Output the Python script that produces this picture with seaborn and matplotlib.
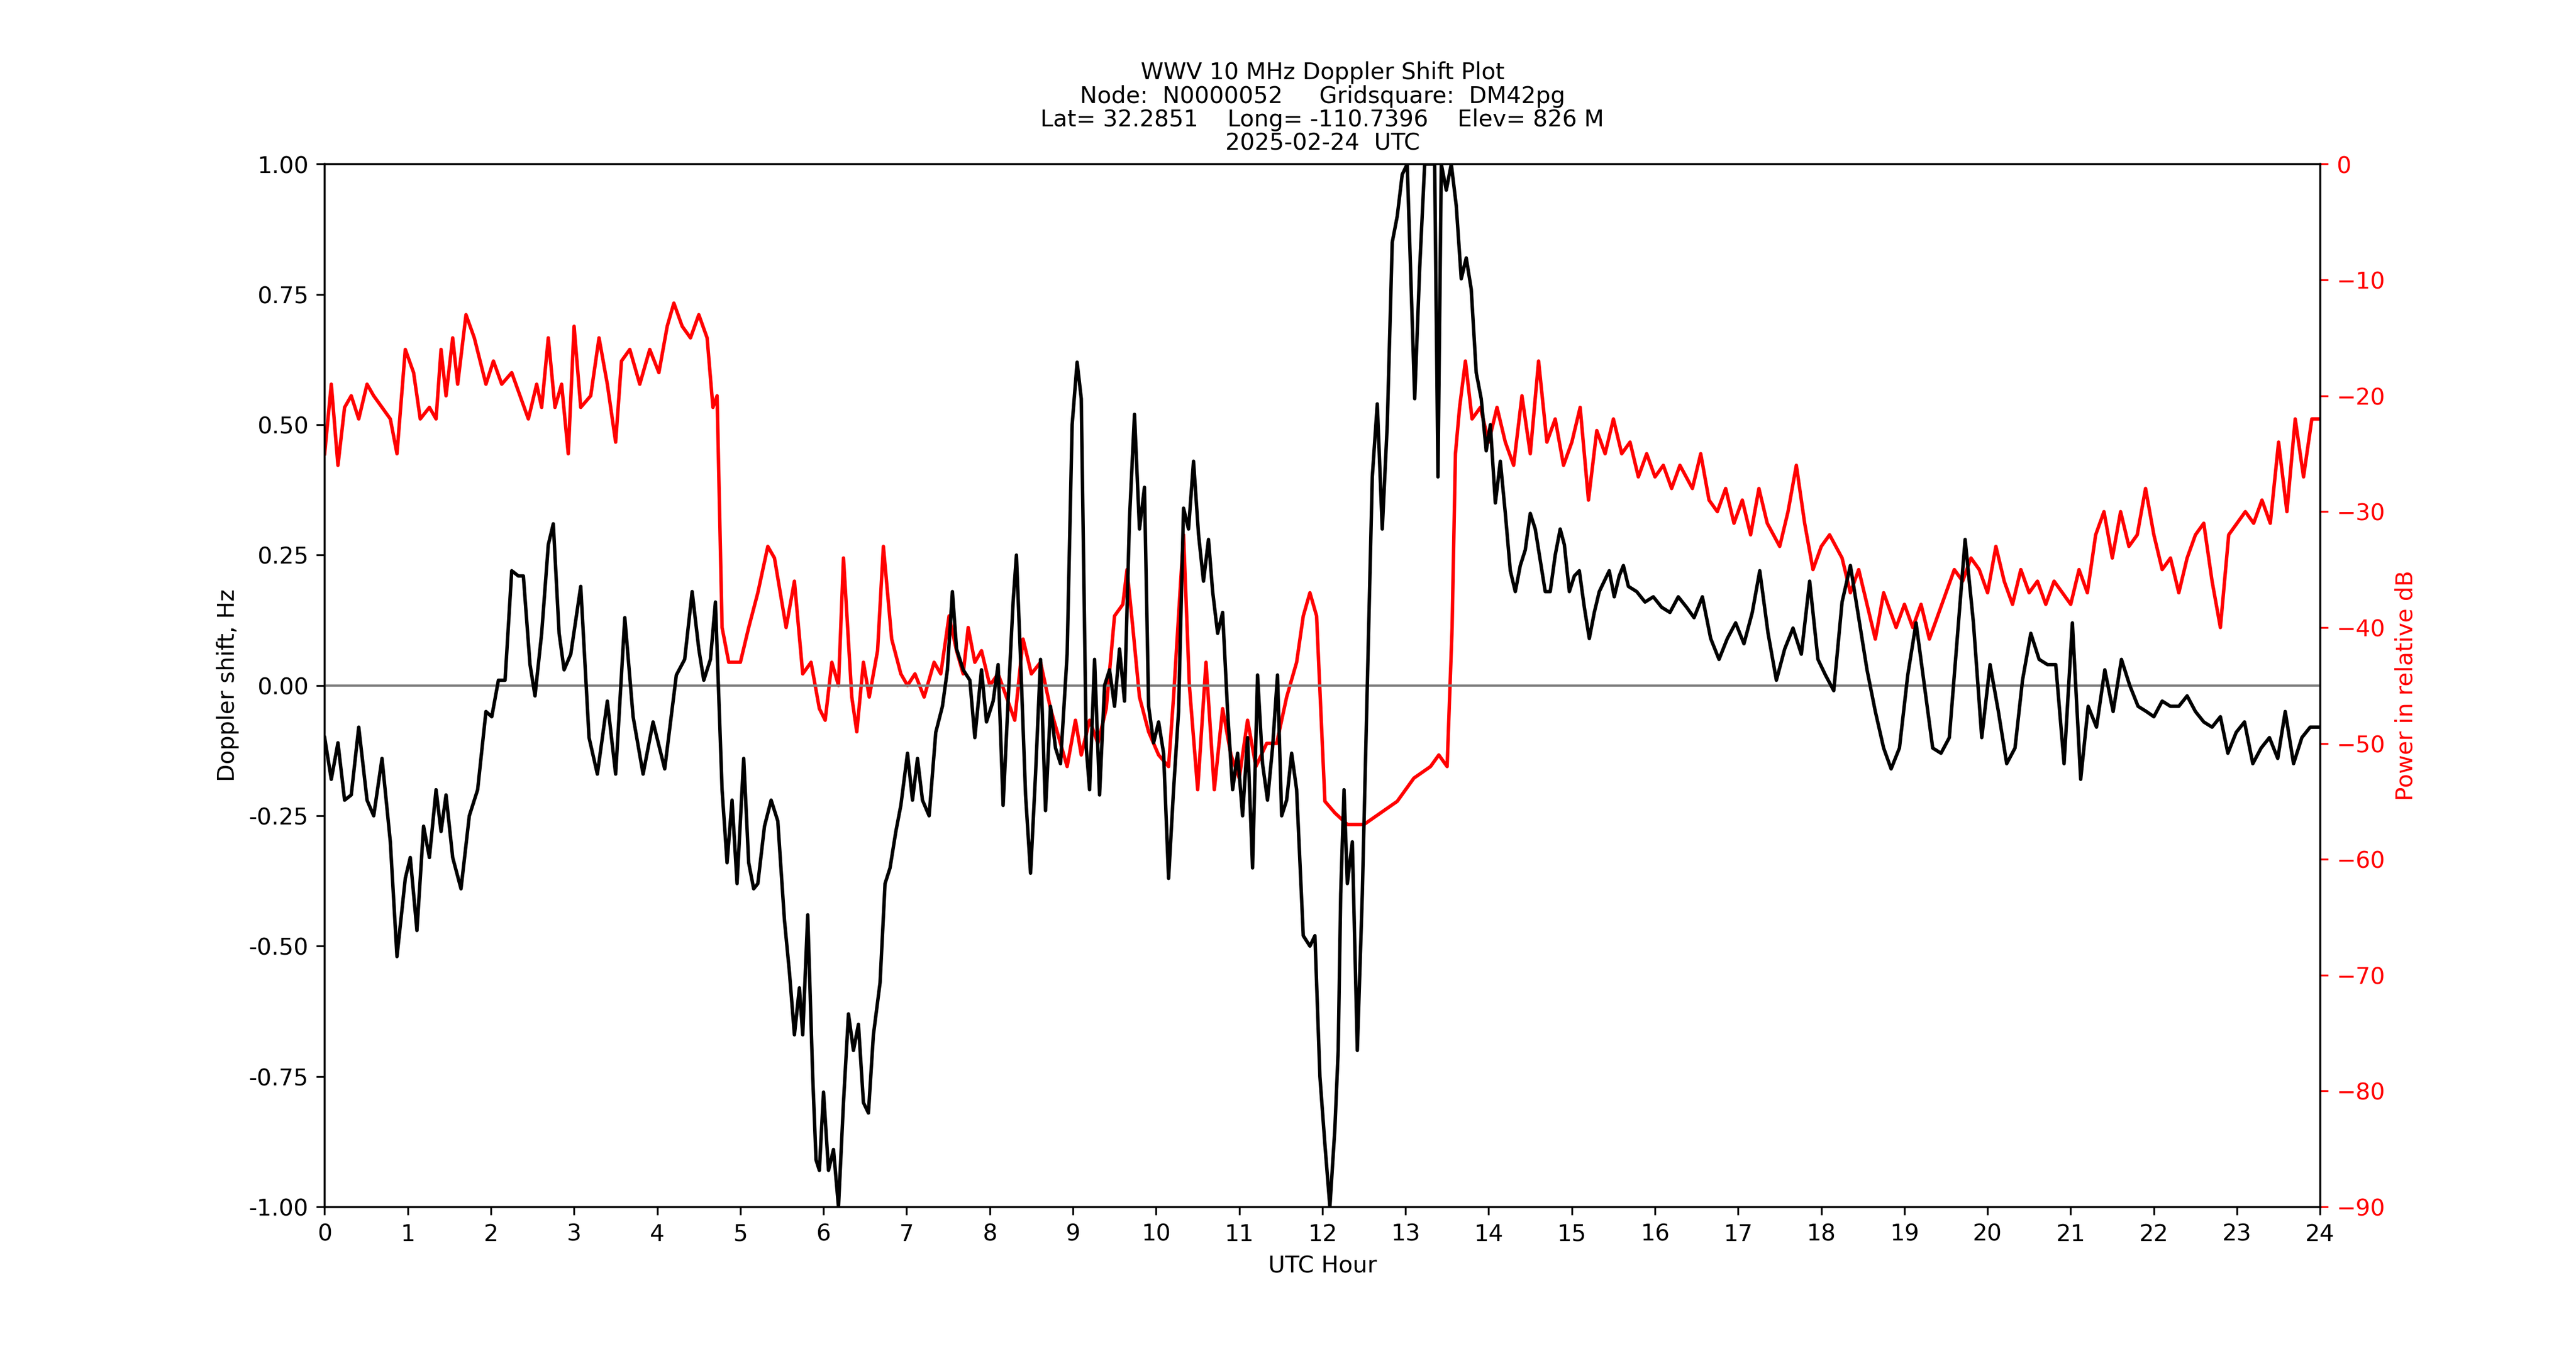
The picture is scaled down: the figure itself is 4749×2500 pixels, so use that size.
import numpy as np
import pandas as pd
import matplotlib
matplotlib.use("Agg")
import matplotlib.pyplot as plt
import seaborn as sns

# Doppler shift (Hz)
dop_hours = [0.00, 0.08, 0.16, 0.24, 0.32, 0.41, 0.51, 0.59, 0.69, 0.79, 0.87, 0.97, 1.03, 1.11, 1.19, 1.26,
             1.34, 1.40, 1.46, 1.54, 1.64, 1.74, 1.84, 1.94, 2.01, 2.09, 2.17, 2.25, 2.33, 2.39, 2.47, 2.53,
             2.61, 2.69, 2.75, 2.82, 2.88, 2.96, 3.08, 3.18, 3.28, 3.40, 3.50, 3.61, 3.71, 3.83, 3.95, 4.09,
             4.23, 4.33, 4.42, 4.50, 4.56, 4.64, 4.70, 4.78, 4.84, 4.90, 4.96, 5.04, 5.10, 5.16, 5.21, 5.29,
             5.37, 5.45, 5.53, 5.59, 5.65, 5.71, 5.75, 5.81, 5.87, 5.91, 5.95, 6.00, 6.06, 6.12, 6.18, 6.24,
             6.30, 6.36, 6.42, 6.48, 6.54, 6.60, 6.68, 6.74, 6.80, 6.87, 6.93, 7.01, 7.07, 7.13, 7.19, 7.27,
             7.35, 7.43, 7.49, 7.55, 7.60, 7.68, 7.76, 7.82, 7.90, 7.96, 8.04, 8.10, 8.16, 8.22, 8.28, 8.32,
             8.37, 8.43, 8.49, 8.55, 8.61, 8.67, 8.73, 8.79, 8.85, 8.93, 8.99, 9.05, 9.10, 9.16, 9.20, 9.26,
             9.32, 9.38, 9.44, 9.50, 9.56, 9.62, 9.68, 9.74, 9.80, 9.86, 9.91, 9.97, 10.03, 10.09, 10.15, 10.21,
             10.27, 10.33, 10.39, 10.45, 10.51, 10.57, 10.63, 10.68, 10.74, 10.80, 10.86, 10.92, 10.98, 11.04,
             11.10, 11.16, 11.22, 11.28, 11.34, 11.40, 11.46, 11.51, 11.57, 11.63, 11.69, 11.77, 11.85, 11.91,
             11.97, 12.03, 12.09, 12.15, 12.19, 12.22, 12.26, 12.30, 12.36, 12.42, 12.48, 12.54, 12.60, 12.66,
             12.72, 12.78, 12.84, 12.90, 12.96, 13.02, 13.06, 13.11, 13.17, 13.23, 13.29, 13.35, 13.39, 13.43,
             13.49, 13.55, 13.61, 13.67, 13.73, 13.79, 13.85, 13.91, 13.97, 14.02, 14.08, 14.14, 14.20, 14.26,
             14.32, 14.38, 14.44, 14.50, 14.56, 14.62, 14.68, 14.74, 14.80, 14.86, 14.91, 14.97, 15.03, 15.09,
             15.15, 15.21, 15.27, 15.33, 15.39, 15.45, 15.51, 15.57, 15.62, 15.68, 15.78, 15.88, 15.98, 16.08,
             16.18, 16.28, 16.38, 16.47, 16.57, 16.67, 16.77, 16.87, 16.97, 17.07, 17.17, 17.26, 17.36, 17.46,
             17.56, 17.66, 17.76, 17.86, 17.96, 18.05, 18.15, 18.25, 18.35, 18.45, 18.55, 18.65, 18.75, 18.84,
             18.94, 19.04, 19.14, 19.24, 19.34, 19.44, 19.54, 19.64, 19.73, 19.83, 19.93, 20.03, 20.13, 20.23,
             20.33, 20.42, 20.52, 20.62, 20.72, 20.82, 20.92, 21.02, 21.12, 21.21, 21.31, 21.41, 21.51, 21.61,
             21.71, 21.81, 21.91, 22.00, 22.10, 22.20, 22.30, 22.40, 22.50, 22.60, 22.70, 22.80, 22.89, 22.99,
             23.09, 23.19, 23.29, 23.39, 23.49, 23.58, 23.68, 23.78, 23.88, 24.00]
dop_hz = [-0.10, -0.18, -0.11, -0.22, -0.21, -0.08, -0.22, -0.25, -0.14, -0.30, -0.52, -0.37, -0.33, -0.47, -0.27, -0.33,
          -0.20, -0.28, -0.21, -0.33, -0.39, -0.25, -0.20, -0.05, -0.06, 0.01, 0.01, 0.22, 0.21, 0.21, 0.04, -0.02,
          0.10, 0.27, 0.31, 0.10, 0.03, 0.06, 0.19, -0.10, -0.17, -0.03, -0.17, 0.13, -0.06, -0.17, -0.07, -0.16,
          0.02, 0.05, 0.18, 0.07, 0.01, 0.05, 0.16, -0.20, -0.34, -0.22, -0.38, -0.14, -0.34, -0.39, -0.38, -0.27,
          -0.22, -0.26, -0.45, -0.55, -0.67, -0.58, -0.67, -0.44, -0.75, -0.91, -0.93, -0.78, -0.93, -0.89, -1.00, -0.80,
          -0.63, -0.70, -0.65, -0.80, -0.82, -0.67, -0.57, -0.38, -0.35, -0.28, -0.23, -0.13, -0.22, -0.14, -0.22, -0.25,
          -0.09, -0.04, 0.03, 0.18, 0.07, 0.03, 0.01, -0.10, 0.03, -0.07, -0.03, 0.04, -0.23, -0.03, 0.16, 0.25,
          0.05, -0.21, -0.36, -0.17, 0.05, -0.24, -0.04, -0.12, -0.15, 0.06, 0.50, 0.62, 0.55, -0.12, -0.20, 0.05,
          -0.21, 0.00, 0.03, -0.04, 0.07, -0.03, 0.32, 0.52, 0.30, 0.38, -0.04, -0.11, -0.07, -0.13, -0.37, -0.20,
          -0.05, 0.34, 0.30, 0.43, 0.29, 0.20, 0.28, 0.18, 0.10, 0.14, -0.05, -0.20, -0.13, -0.25,
          -0.10, -0.35, 0.02, -0.15, -0.22, -0.12, 0.02, -0.25, -0.22, -0.13, -0.20, -0.48, -0.50, -0.48,
          -0.75, -0.88, -1.00, -0.85, -0.70, -0.40, -0.20, -0.38, -0.30, -0.70, -0.40, 0.00, 0.40, 0.54,
          0.30, 0.50, 0.85, 0.90, 0.98, 1.00, 0.80, 0.55, 0.80, 1.00, 1.00, 1.00, 0.40, 1.00,
          0.95, 1.00, 0.92, 0.78, 0.82, 0.76, 0.60, 0.55, 0.45, 0.50, 0.35, 0.43, 0.33, 0.22,
          0.18, 0.23, 0.26, 0.33, 0.30, 0.24, 0.18, 0.18, 0.25, 0.30, 0.27, 0.18, 0.21, 0.22,
          0.15, 0.09, 0.14, 0.18, 0.20, 0.22, 0.17, 0.21, 0.23, 0.19, 0.18, 0.16, 0.17, 0.15,
          0.14, 0.17, 0.15, 0.13, 0.17, 0.09, 0.05, 0.09, 0.12, 0.08, 0.14, 0.22, 0.10, 0.01,
          0.07, 0.11, 0.06, 0.20, 0.05, 0.02, -0.01, 0.16, 0.23, 0.13, 0.03, -0.05, -0.12, -0.16,
          -0.12, 0.02, 0.12, 0.00, -0.12, -0.13, -0.10, 0.10, 0.28, 0.12, -0.10, 0.04, -0.05, -0.15,
          -0.12, 0.01, 0.10, 0.05, 0.04, 0.04, -0.15, 0.12, -0.18, -0.04, -0.08, 0.03, -0.05, 0.05,
          0.00, -0.04, -0.05, -0.06, -0.03, -0.04, -0.04, -0.02, -0.05, -0.07, -0.08, -0.06, -0.13, -0.09,
          -0.07, -0.15, -0.12, -0.10, -0.14, -0.05, -0.15, -0.10, -0.08, -0.08]

# Received power (relative dB)
pwr_hours = [0.00, 0.08, 0.16, 0.24, 0.32, 0.41, 0.51, 0.59, 0.69, 0.79, 0.87, 0.97, 1.07, 1.15, 1.26, 1.34,
             1.40, 1.46, 1.54, 1.60, 1.70, 1.80, 1.94, 2.03, 2.13, 2.25, 2.35, 2.45, 2.55, 2.61, 2.69, 2.77,
             2.85, 2.93, 3.00, 3.08, 3.20, 3.30, 3.40, 3.50, 3.57, 3.67, 3.79, 3.91, 4.02, 4.12, 4.20, 4.30,
             4.40, 4.50, 4.60, 4.67, 4.72, 4.78, 4.86, 5.00, 5.10, 5.21, 5.33, 5.41, 5.55, 5.65, 5.75, 5.85,
             5.95, 6.02, 6.10, 6.18, 6.24, 6.34, 6.40, 6.48, 6.55, 6.65, 6.72, 6.82, 6.93, 7.01, 7.10, 7.21,
             7.33, 7.41, 7.51, 7.60, 7.68, 7.74, 7.82, 7.90, 8.00, 8.10, 8.20, 8.30, 8.40, 8.50, 8.61, 8.73,
             8.85, 8.93, 9.03, 9.10, 9.20, 9.30, 9.40, 9.50, 9.60, 9.65, 9.72, 9.80, 9.91, 10.03, 10.15, 10.21,
             10.33, 10.40, 10.50, 10.60, 10.70, 10.80, 10.90, 11.00, 11.10, 11.20, 11.33, 11.45, 11.57, 11.69,
             11.77, 11.85, 11.93, 12.03, 12.15, 12.30, 12.50, 12.70, 12.90, 13.10, 13.30, 13.40, 13.50, 13.56,
             13.60, 13.65, 13.72, 13.80, 13.90, 14.00, 14.10, 14.20, 14.30, 14.40, 14.50, 14.60, 14.70, 14.80,
             14.90, 15.00, 15.10, 15.20, 15.30, 15.40, 15.50, 15.60, 15.70, 15.80, 15.90, 16.00, 16.10, 16.20,
             16.30, 16.45, 16.55, 16.65, 16.75, 16.85, 16.95, 17.05, 17.15, 17.25, 17.35, 17.50, 17.60, 17.70,
             17.80, 17.90, 18.00, 18.10, 18.25, 18.35, 18.45, 18.55, 18.65, 18.75, 18.90, 19.00, 19.10, 19.20,
             19.30, 19.40, 19.50, 19.60, 19.70, 19.80, 19.90, 20.00, 20.10, 20.20, 20.30, 20.40, 20.50, 20.60,
             20.70, 20.80, 20.90, 21.00, 21.10, 21.20, 21.30, 21.40, 21.50, 21.60, 21.70, 21.80, 21.90, 22.00,
             22.10, 22.20, 22.30, 22.40, 22.50, 22.60, 22.70, 22.80, 22.90, 23.00, 23.10, 23.20, 23.30, 23.40,
             23.50, 23.60, 23.70, 23.80, 23.90, 24.00]
pwr_db = [-25, -19, -26, -21, -20, -22, -19, -20, -21, -22, -25, -16, -18, -22, -21, -22,
          -16, -20, -15, -19, -13, -15, -19, -17, -19, -18, -20, -22, -19, -21, -15, -21,
          -19, -25, -14, -21, -20, -15, -19, -24, -17, -16, -19, -16, -18, -14, -12, -14,
          -15, -13, -15, -21, -20, -40, -43, -43, -40, -37, -33, -34, -40, -36, -44, -43,
          -47, -48, -43, -45, -34, -46, -49, -43, -46, -42, -33, -41, -44, -45, -44, -46,
          -43, -44, -39, -42, -44, -40, -43, -42, -45, -44, -46, -48, -41, -44, -43, -47,
          -50, -52, -48, -51, -48, -50, -47, -39, -38, -35, -40, -46, -49, -51, -52, -46,
          -32, -45, -54, -43, -54, -47, -51, -53, -48, -52, -50, -50, -46, -43,
          -39, -37, -39, -55, -56, -57, -57, -56, -55, -53, -52, -51, -52, -40,
          -25, -21, -17, -22, -21, -24, -21, -24, -26, -20, -25, -17, -24, -22,
          -26, -24, -21, -29, -23, -25, -22, -25, -24, -27, -25, -27, -26, -28,
          -26, -28, -25, -29, -30, -28, -31, -29, -32, -28, -31, -33, -30, -26,
          -31, -35, -33, -32, -34, -37, -35, -38, -41, -37, -40, -38, -40, -38,
          -41, -39, -37, -35, -36, -34, -35, -37, -33, -36, -38, -35, -37, -36,
          -38, -36, -37, -38, -35, -37, -32, -30, -34, -30, -33, -32, -28, -32,
          -35, -34, -37, -34, -32, -31, -36, -40, -32, -31, -30, -31, -29, -31,
          -24, -30, -22, -27, -22, -22]

dop = pd.DataFrame({"hour": dop_hours, "shift": dop_hz})
pwr = pd.DataFrame({"hour": pwr_hours, "db": pwr_db})

fig = plt.figure(figsize=(15.5, 8.158), dpi=306.45)
ax = fig.add_axes([0.126, 0.11, 0.7745, 0.769])
ax2 = ax.twinx()

sns.lineplot(data=pwr, x="hour", y="db", ax=ax2, color="red", linewidth=1.5, sort=False)
sns.lineplot(data=dop, x="hour", y="shift", ax=ax, color="black", linewidth=1.5, sort=False, zorder=3)
ax.axhline(0, color="grey", linewidth=1)
ax.set_zorder(ax2.get_zorder() + 1)
ax.patch.set_visible(False)

ax.set_xlim(0, 24)
ax.set_xticks(range(0, 25))
ax.set_ylim(-1, 1)
ax.set_yticks([-1, -0.75, -0.5, -0.25, 0, 0.25, 0.5, 0.75, 1])
ax.set_yticklabels([f"{v:.2f}" for v in ax.get_yticks()])
ax.set_xlabel("UTC Hour")
ax.set_ylabel("Doppler shift, Hz")

ax2.set_ylim(-90, 0)
ax2.set_yticks(range(-90, 1, 10))
ax2.set_ylabel("Power in relative dB", color="red")
ax2.tick_params(axis="y", colors="red")
ax2.set_xlabel("")

ax.set_title("WWV 10 MHz Doppler Shift Plot\n"
             "Node:  N0000052     Gridsquare:  DM42pg\n"
             "Lat= 32.2851    Long= -110.7396    Elev= 826 M\n"
             "2025-02-24  UTC", fontsize=10, linespacing=1.05)

fig.savefig("out.png", dpi=306.45)
